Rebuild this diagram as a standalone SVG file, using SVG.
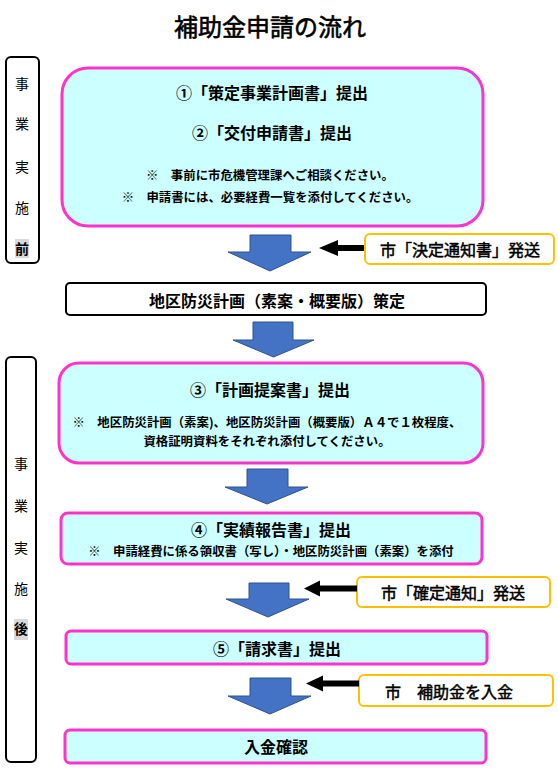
<svg xmlns="http://www.w3.org/2000/svg" width="558" height="776" viewBox="0 0 558 776">
<style>
text{font-family:"Noto Sans CJK JP","Noto Sans CJK SC",sans-serif;fill:#000;text-anchor:middle;dominant-baseline:central}
.pink{fill:#CCFFFF;stroke:#FF33CC;stroke-width:3}
.yel{fill:#fff;stroke:#FFC000;stroke-width:2}
.side{fill:#fff;stroke:#000;stroke-width:2}
.plain{fill:#fff;stroke:#000;stroke-width:2}
.h{font-size:16px;font-weight:bold}
.n{font-size:12.4px;font-weight:bold}
.y{font-size:16px;stroke:#000;stroke-width:0.5}
.t{font-size:24px;stroke:#000;stroke-width:0.6}
.s{font-size:14px}
.blue{fill:#4472C4;stroke:#2F528F;stroke-width:1}
.blk{fill:#000}
.gray{fill:#D9D9D9}
</style>
<text id="title" class="t" x="270" y="25">補助金申請の流れ</text>

<g id="side-before">
<rect class="side" x="6" y="57" width="33" height="206" rx="5"/>
<text class="s" x="22" y="83">事</text>
<text class="s" x="22" y="123">業</text>
<text class="s" x="22" y="166">実</text>
<text class="s" x="22" y="207">施</text>
<rect class="gray" x="15" y="239" width="14" height="19"/>
<text class="s" x="22" y="248" style="font-weight:bold">前</text>
</g>

<g id="side-after">
<rect class="side" x="6" y="357" width="30" height="405" rx="5"/>
<text class="s" x="21" y="463">事</text>
<text class="s" x="21" y="505">業</text>
<text class="s" x="21" y="547">実</text>
<text class="s" x="21" y="588">施</text>
<rect class="gray" x="14" y="619" width="14" height="21"/>
<text class="s" x="21" y="628" style="font-weight:bold">後</text>
</g>

<g id="step12">
<rect class="pink" x="62" y="68" width="421" height="158" rx="26"/>
<text class="h" x="272" y="92">①「策定事業計画書」提出</text>
<text class="h" x="272" y="132">②「交付申請書」提出</text>
<text class="n" x="270" y="175">※　事前に市危機管理課へご相談ください。</text>
<text class="n" x="270" y="197">※　申請書には、必要経費一覧を添付してください。</text>
</g>

<g id="notice1">
<rect class="yel" x="365" y="234" width="189" height="30" rx="5"/>
<text class="y" x="460" y="249">市「決定通知書」発送</text>
</g>

<g id="plan">
<rect class="plain" x="66" y="283" width="420" height="32" rx="4"/>
<text class="h" x="277" y="300">地区防災計画（素案・概要版）策定</text>
</g>

<g id="step3">
<rect class="pink" x="59" y="363" width="424" height="100" rx="20"/>
<text class="h" x="270" y="389">③「計画提案書」提出</text>
<text class="n" x="267" y="422">※　地区防災計画（素案)、地区防災計画（概要版）Ａ４で１枚程度、</text>
<text class="n" x="267" y="441">資格証明資料をそれぞれ添付してください。</text>
</g>

<g id="step4">
<rect class="pink" x="61" y="513" width="421" height="51" rx="7"/>
<text class="h" x="271" y="529">④「実績報告書」提出</text>
<text class="n" x="271" y="551">※　申請経費に係る領収書（写し）・地区防災計画（素案）を添付</text>
</g>

<g id="notice2">
<rect class="yel" x="357" y="577" width="193" height="30" rx="5"/>
<text class="y" x="453" y="592">市「確定通知」発送</text>
</g>

<g id="step5">
<rect class="pink" x="66" y="631" width="421" height="33" rx="5"/>
<text class="h" x="277" y="648">⑤「請求書」提出</text>
</g>

<g id="notice3">
<rect class="yel" x="359" y="675" width="194" height="31" rx="5"/>
<text class="y" x="449" y="691">市　補助金を入金</text>
</g>

<g id="done">
<rect class="pink" x="65" y="730" width="421" height="33" rx="5"/>
<text class="h" x="276" y="746">入金確認</text>
</g>

<g id="connectors">
<path class="blue" d="M250,235 H291 V252 H311 L270,271 L228,252 H250 Z"/>
<path class="blue" d="M253,322 H293 V340 H314 L273.5,357 L233,340 H253 Z"/>
<path class="blue" d="M247,469 H288 V487 H308 L267,504 L225,487 H247 Z"/>
<path class="blue" d="M249,583 H289 V599 H309 L268,617 L226,599 H249 Z"/>
<path class="blue" d="M250,678 H291 V696 H311 L270,714 L228,696 H250 Z"/>
<path class="blk" d="M319,248 L338,240 V245 H364 V251 H338 V256 Z"/>
<path class="blk" d="M304,588.5 L320,580.5 V585.5 H357 V591.5 H320 V596.5 Z"/>
<path class="blk" d="M306,683.5 L323,675.5 V680.5 H359 V686.5 H323 V691.5 Z"/>
</g>
</svg>
